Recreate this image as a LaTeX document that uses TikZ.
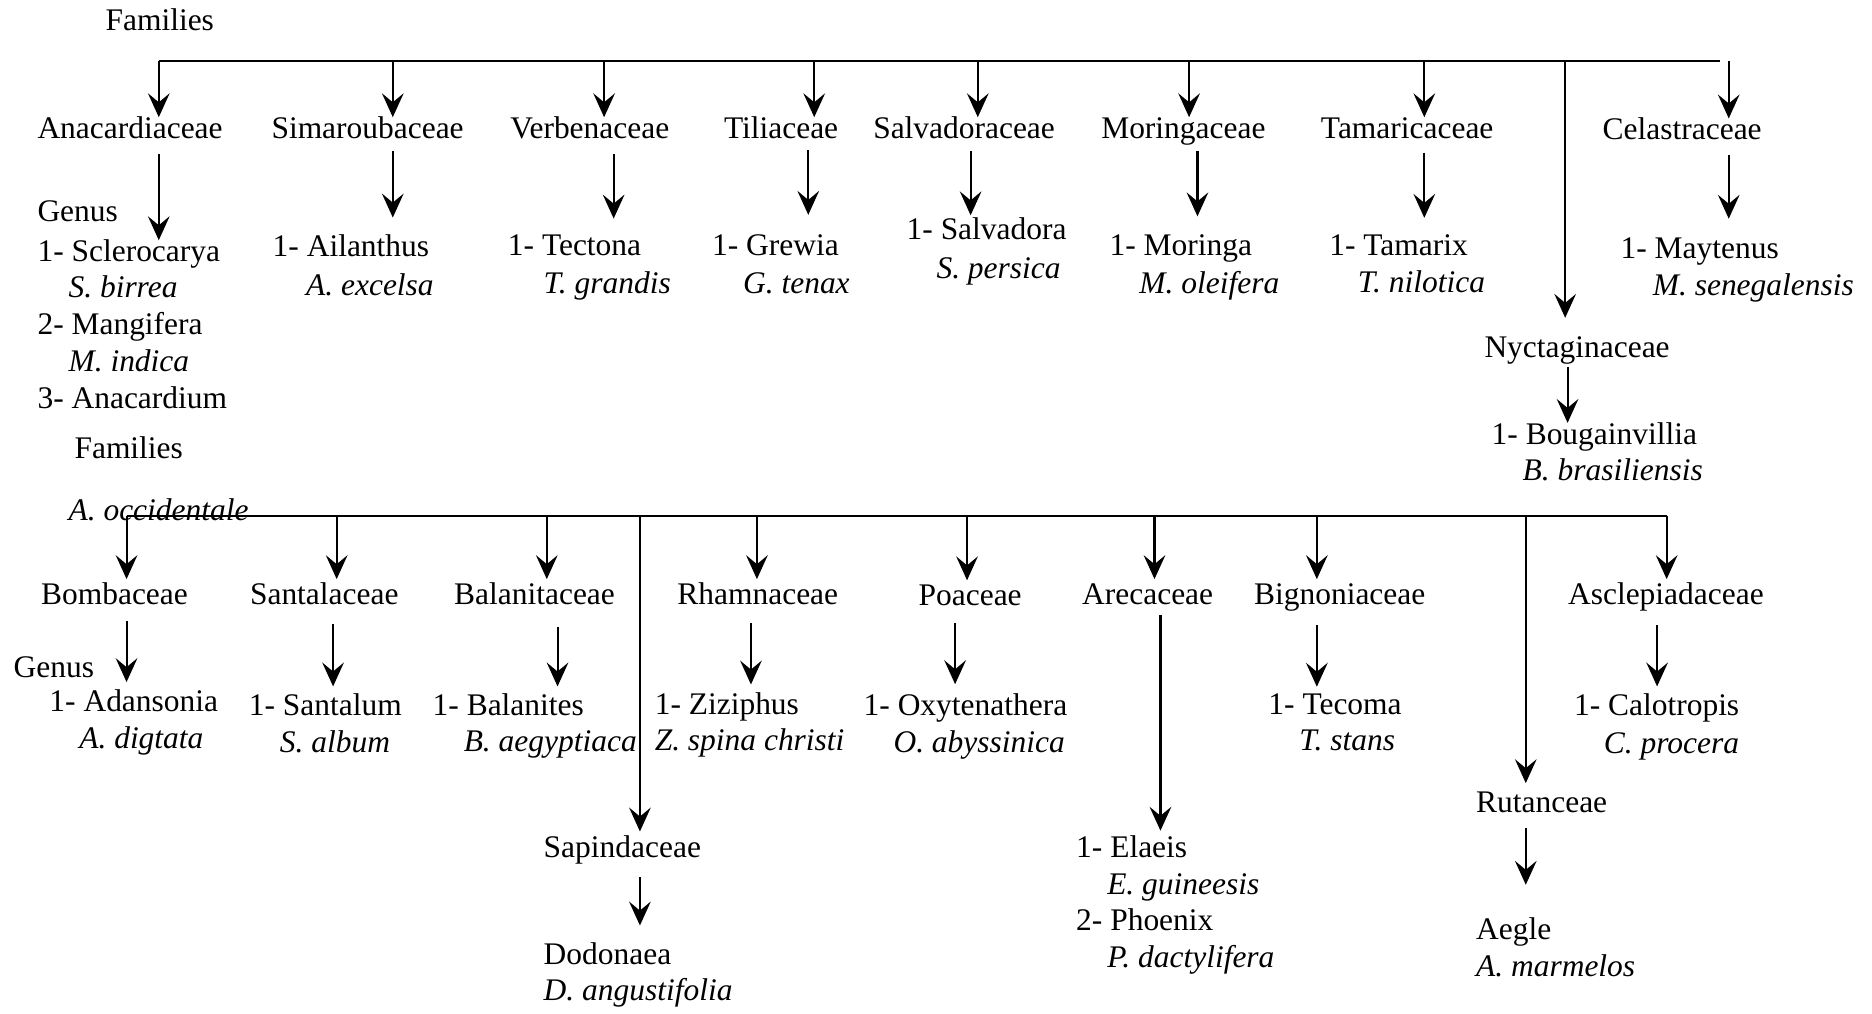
\documentclass[tikz,border=0pt]{standalone}
\usepackage{fontspec}
\setmainfont{Liberation Serif}
\usetikzlibrary{arrows.meta}
\pgfmathsetmacro{\busy}{51}
\pgfmathsetmacro{\busyb}{432}

\begin{document}
\begin{tikzpicture}[x=0.016cm, y=-0.016cm,
    lbl/.style={anchor=west, inner xsep=0pt, inner ysep=0.05cm,
        text height=0.66em, text depth=0pt,
        font=\fontsize{12pt}{14pt}\selectfont},
    spec/.style={lbl, font=\fontsize{12pt}{14pt}\selectfont\itshape},
    arr/.style={line width=0.8pt,
        -{Stealth[length=0.32cm, width=0.29cm, inset=0.12cm]}}]
\useasboundingbox (0,0) rectangle (1568,849);
    % headings
    \node[lbl] (famtop) at (88,18) {Families};
    \node[lbl] (fambot) at (62,377) {Families};
    \node[lbl] (gentop) at (31,178) {Genus};
    \node[lbl] (genbot) at (11,560) {Genus};
    % families
    \foreach \n/\x/\y/\txt in {anac/31/109/Anacardiaceae, sima/227/109/Simaroubaceae,
        verb/427/109/Verbenaceae, tili/606/109/Tiliaceae, salv/731/109/Salvadoraceae,
        mori/922/109/Moringaceae, tama/1106/109/Tamaricaceae, cela/1342/110/Celastraceae,
        nyct/1243/292/Nyctaginaceae,
        bomb/34/499/Bombaceae, sant/209/499/Santalaceae, bala/380/499/Balanitaceae,
        rham/567/499/Rhamnaceae, poac/769/500/Poaceae, arec/906/499/Arecaceae,
        bign/1050/499/Bignoniaceae, ascl/1313/499/Asclepiadaceae,
        sapi/455/711/Sapindaceae, ruta/1236/673/Rutanceae}
        \node[lbl] (\n) at (\x,\y) {\txt};
    % genera
    \foreach \n/\x/\y/\txt in {scle/31/212/1- Sclerocarya, mang/31/273/2- Mangifera,
        anag/31/335/3- Anacardium, aila/228/208/1- Ailanthus, tect/425/207/1- Tectona,
        grew/596/207/1- Grewia, salg/759/193/1- Salvadora, morg/929/207/1- Moringa,
        tamg/1113/207/1- Tamarix, mayt/1357/209/1- Maytenus, boug/1249/365/1- Bougainvillia,
        adan/41/589/1- Adansonia, sang/208/592/1- Santalum, balg/362/592/1- Balanites,
        zizi/548/591/1- Ziziphus, oxyt/723/592/1- Oxytenathera, teco/1062/591/1- Tecoma,
        calo/1318/592/1- Calotropis, dodo/455/801/Dodonaea, elae/901/711/1- Elaeis,
        phoe/901/772/2- Phoenix, aegl/1236/780/Aegle}
        \node[lbl] (\n) at (\x,\y) {\txt};
    % species
    \foreach \n/\x/\y/\txt in {sbir/57/242/S. birrea, mind/57/304/M. indica,
        aocc/57/429/A. occidentale, aexc/256/240/A. excelsa, tgra/455/239/T. grandis,
        gten/622/239/G. tenax, sper/784/226/S. persica, mole/954/239/M. oleifera,
        tnil/1137/238/T. nilotica, msen/1384/240/M. senegalensis, bbra/1275/395/B. brasiliensis,
        adig/66/620/A. digtata, salb/234/623/S. album, baeg/388/622/B. aegyptiaca,
        zspi/548/621/Z. spina christi, oaby/748/623/O. abyssinica, tsta/1088/621/T. stans,
        cpro/1343/624/C. procera, dang/455/831/D. angustifolia, egui/927/742/E. guineesis,
        pdac/927/803/P. dactylifera, amar/1236/811/A. marmelos}
        \node[spec] (\n) at (\x,\y) {\txt};
    % buses
    \coordinate (tbus-w) at (133,\busy);
    \coordinate (tbus-e) at (1441,\busy);
    \coordinate (bbus-w) at (106,\busyb);
    \coordinate (bbus-e) at (1396,\busyb);
    \draw[line width=0.8pt] (tbus-w) -- (tbus-e);
    \draw[line width=0.8pt] (bbus-w) -- (bbus-e);
    % bus to families
    \foreach \n/\x/\gb in {anac/133/0, sima/329/0, verb/506/0, tili/682/0, salv/819/0,
        mori/996/0, tama/1193/0, cela/1448/0, nyct/1311/0.24}
    {
        \coordinate (tap-\n) at (\x,\busy);
        \draw[arr, shorten >=\gb cm] (tap-\n) -- (tap-\n |- \n.north);
    }
    \foreach \n/\x/\gb in {bomb/106/0.05, sant/282/0.05, bala/458/0.05, rham/634/0.05,
        sapi/536/0.06, poac/810/0.05, arec/967/0.05, bign/1103/0.05, ruta/1278/0.1,
        ascl/1396/0.05}
    {
        \coordinate (tap-\n) at (\x,\busyb);
        \draw[arr, shorten >=\gb cm] (tap-\n) -- (tap-\n |- \n.north);
    }
    % families to genera
    \foreach \f/\g/\x/\ga/\gb in {anac/scle/133/0.15/0, sima/aila/329/0.11/0.24,
        verb/tect/514/0.15/0.21, tili/grew/677/0.1/0.26, salv/salg/813/0.11/0.03,
        mori/morg/1003/0.11/0.24, tama/tamg/1193/0.13/0.22, cela/mayt/1448/0.15/0.24,
        nyct/boug/1313/0.08/0,
        bomb/adan/106/0.16/0.11, sant/sang/279/0.21/0.1, bala/balg/467/0.24/0.1,
        rham/zizi/629/0.19/0.11, poac/oxyt/800/0.18/0.13, arec/elae/972/0.08/0.07,
        bign/teco/1103/0.22/0.08, ascl/calo/1388/0.22/0.1, sapi/dodo/536/0.21/0.24,
        ruta/aegl/1278/0.16/0.45}
        \draw[arr, shorten <=\ga cm, shorten >=\gb cm] (\f.south -| \x,0) -- (\x,0 |- \g.north);
\end{tikzpicture}
\end{document}
